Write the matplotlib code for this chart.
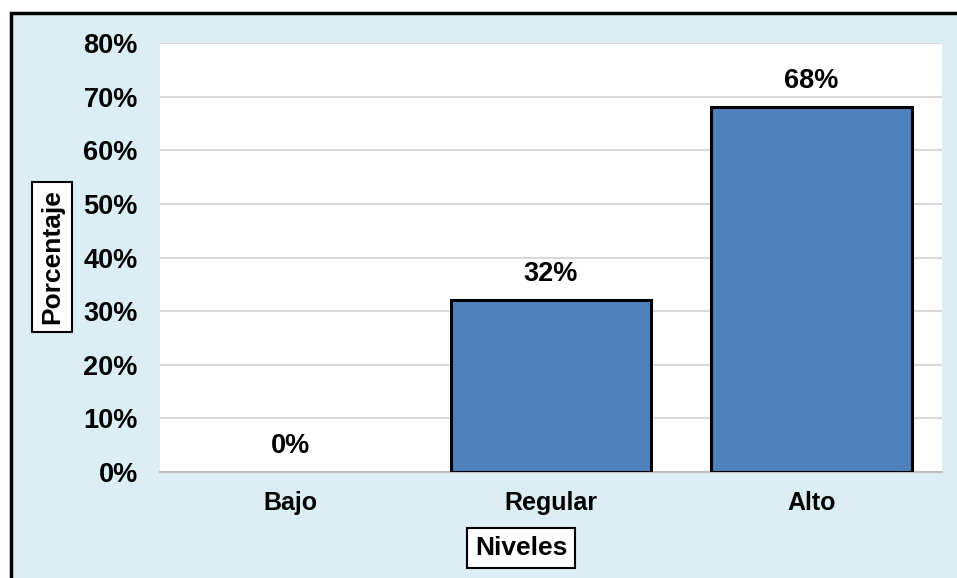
import matplotlib
matplotlib.use("Agg")
import matplotlib.pyplot as plt
from matplotlib.patches import Rectangle
from matplotlib.ticker import FuncFormatter

categories = ["Bajo", "Regular", "Alto"]
values = [0.00, 0.32, 0.68]
value_labels = ["0%", "32%", "68%"]
y_ticks = [0.0, 0.1, 0.2, 0.3, 0.4, 0.5, 0.6, 0.7, 0.8]

plt.rcParams['font.family'] = ['Liberation Sans', 'DejaVu Sans']
plt.rcParams['font.weight'] = 'bold'

W, H = 957, 578
fig = plt.figure(figsize=(W / 100, H / 100), dpi=100, facecolor='white')

bg = Rectangle((11 / W, -0.2), 1.5, (H - 13) / H + 0.2, transform=fig.transFigure,
               facecolor='#DAEEF3', edgecolor='black', linewidth=2.5, zorder=-10,
               clip_on=False)
fig.patches.append(bg)

ax = fig.add_axes([160 / W, (H - 472) / H, (942 - 160) / W, (472 - 43) / H])
ax.set_facecolor('white')

x = list(range(len(categories)))
lws = [2.2 if v > 0 else 0 for v in values]
ax.bar(x, values, width=0.77, color='#4F81BD', edgecolor='black', linewidth=lws, zorder=3)

for xi, v, lab in zip(x, values, value_labels):
    ax.annotate(lab, (xi, v), xytext=(0, 19), textcoords='offset points',
                ha='center', va='center', fontsize=19.5, fontweight='bold', color='black')

ax.set_xlim(-0.5, 2.5)
ax.set_ylim(0, 0.8)
ax.set_yticks(y_ticks)
ax.yaxis.set_major_formatter(FuncFormatter(lambda v, p: f"{v*100:.0f}%"))
ax.set_xticks(x)
ax.set_xticklabels(categories)
ax.tick_params(axis='y', length=0, pad=16, labelsize=19.5)
ax.tick_params(axis='x', length=0, pad=14, labelsize=18)
for lab in ax.get_xticklabels() + ax.get_yticklabels():
    lab.set_fontweight('bold')

ax.grid(axis='y', color='#D9D9D9', linewidth=1.5, zorder=0)
ax.set_axisbelow(True)
for s in ['top', 'right', 'left']:
    ax.spines[s].set_visible(False)
ax.spines['bottom'].set_color('#BFBFBF')
ax.spines['bottom'].set_linewidth(1.5)

fig.text(52 / W, 1 - 257 / H, "Porcentaje", rotation=90, ha='center', va='center',
         fontsize=19, fontweight='bold',
         bbox=dict(boxstyle='square,pad=0.3', facecolor='white', edgecolor='black', linewidth=1.5))
fig.text(521 / W, 1 - 548 / H, "Niveles", ha='center', va='center',
         fontsize=19, fontweight='bold',
         bbox=dict(boxstyle='square,pad=0.3', facecolor='white', edgecolor='black', linewidth=1.5))

fig.savefig("out.png", dpi=100, facecolor=fig.get_facecolor())
